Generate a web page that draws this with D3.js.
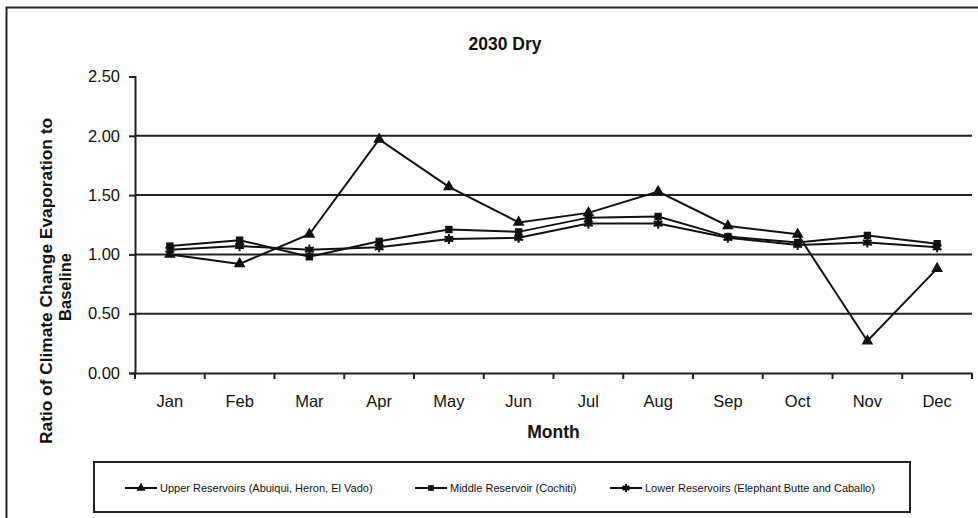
<!DOCTYPE html>
<html>
<head>
<meta charset="utf-8">
<script src="https://cdn.jsdelivr.net/npm/d3@7"></script>
<style>
  body { margin: 0; background: #fff; }
  text { font-family: Arial, "Liberation Sans", sans-serif; fill: #111; }
</style>
</head>
<body>
<div id="chart"></div>
<script>
var months = ["Jan", "Feb", "Mar", "Apr", "May", "Jun", "Jul", "Aug", "Sep", "Oct", "Nov", "Dec"];
var upper = [1.00, 0.92, 1.17, 1.97, 1.57, 1.27, 1.35, 1.53, 1.24, 1.17, 0.27, 0.88];
var middle = [1.07, 1.12, 0.98, 1.11, 1.21, 1.19, 1.31, 1.32, 1.15, 1.10, 1.16, 1.09];
var lower = [1.04, 1.07, 1.04, 1.06, 1.13, 1.14, 1.26, 1.26, 1.14, 1.08, 1.10, 1.06];
var yTicks = [0, 0.5, 1.0, 1.5, 2.0, 2.5];
var seriesNames = ["Upper  Reservoirs (Abuiqui, Heron, El Vado)", "Middle Reservoir (Cochiti)", "Lower Reservoirs (Elephant Butte and Caballo)"];

var width = 978, height = 518;
var plotLeft = 135, plotRight = 972, plotTop = 76.5, plotBottom = 373;

var svg = d3.select("#chart").append("svg")
    .attr("width", width)
    .attr("height", height);

// outer frame
svg.append("path")
    .attr("d", "M6.5,520 V7.5 H980")
    .attr("fill", "none")
    .attr("stroke", "#222")
    .attr("stroke-width", 2);

var x = d3.scaleBand().domain(months).range([plotLeft, plotRight]);
var y = d3.scaleLinear().domain([0, 2.5]).range([plotBottom, plotTop]);

// title
svg.append("text")
    .attr("x", 505).attr("y", 50)
    .attr("text-anchor", "middle")
    .style("font-size", "17.5px").style("font-weight", "bold")
    .text("2030 Dry");

// gridlines
svg.append("g").selectAll("line")
    .data(yTicks.filter(function(d) { return d > 0 && d < 2.5; }))
    .enter().append("line")
    .attr("x1", plotLeft).attr("x2", plotRight)
    .attr("y1", function(d) { return y(d); })
    .attr("y2", function(d) { return y(d); })
    .attr("stroke", "#222").attr("stroke-width", 2);

// y axis
var yAxis = svg.append("g")
    .attr("transform", "translate(" + plotLeft + ",0)")
    .call(d3.axisLeft(y).tickValues(yTicks).tickFormat(d3.format(".2f")).tickSize(6).tickPadding(9));
yAxis.select(".domain").attr("stroke", "#222").attr("stroke-width", 2);
yAxis.selectAll(".tick line").attr("stroke", "#222").attr("stroke-width", 2);
yAxis.selectAll("text").style("font-size", "16.5px").style("font-family", "Arial, 'Liberation Sans', sans-serif").attr("fill", "#111");

// x axis
var xAxis = svg.append("g")
    .attr("transform", "translate(0," + plotBottom + ")")
    .call(d3.axisBottom(x).tickSize(0).tickPadding(22));
xAxis.select(".domain").attr("stroke", "#222").attr("stroke-width", 2);
xAxis.selectAll("text").style("font-size", "16.5px").style("font-family", "Arial, 'Liberation Sans', sans-serif").attr("fill", "#111");
xAxis.selectAll(".sep").data(d3.range(months.length + 1))
    .enter().append("line")
    .attr("class", "sep")
    .attr("x1", function(i) { return plotLeft + i * x.step(); })
    .attr("x2", function(i) { return plotLeft + i * x.step(); })
    .attr("y1", 0).attr("y2", 6)
    .attr("stroke", "#222").attr("stroke-width", 2);

// axis titles
svg.append("text")
    .attr("x", (plotLeft + plotRight) / 2).attr("y", 438)
    .attr("text-anchor", "middle")
    .style("font-size", "17.5px").style("font-weight", "bold")
    .text("Month");

svg.append("text")
    .attr("transform", "translate(52,281) rotate(-90)")
    .attr("text-anchor", "middle")
    .attr("textLength", 326).attr("lengthAdjust", "spacingAndGlyphs")
    .style("font-size", "16.5px").style("font-weight", "bold")
    .text("Ratio of Climate Change Evaporation to");
svg.append("text")
    .attr("transform", "translate(71,287) rotate(-90)")
    .attr("text-anchor", "middle")
    .style("font-size", "16.5px").style("font-weight", "bold")
    .text("Baseline");

// series
var symbols = [d3.symbolTriangle, d3.symbolSquare, d3.symbolX];
var sizes = [60, 55, 60];
var series = [upper, middle, lower];

var line = d3.line()
    .x(function(d, i) { return x(months[i]) + x.bandwidth() / 2; })
    .y(function(d) { return y(d); });

function drawMarker(g, k, px, py, scale) {
    var s = sizes[k] * (scale || 1);
    if (k === 2) {
        g.append("path")
            .attr("transform", "translate(" + px + "," + py + ")")
            .attr("d", d3.symbol().type(d3.symbolSquare).size(s * 0.55)())
            .attr("fill", "#111");
        g.append("path")
            .attr("transform", "translate(" + px + "," + py + ")")
            .attr("d", d3.symbol().type(d3.symbolAsterisk).size(s * 1.2)())
            .attr("fill", "none").attr("stroke", "#111").attr("stroke-width", 2);
    } else {
        g.append("path")
            .attr("transform", "translate(" + px + "," + py + ")")
            .attr("d", d3.symbol().type(symbols[k]).size(s)())
            .attr("fill", "#111");
    }
}

series.forEach(function(vals, k) {
    var g = svg.append("g");
    g.append("path")
        .datum(vals)
        .attr("d", line)
        .attr("fill", "none")
        .attr("stroke", "#111")
        .attr("stroke-width", 2);
    vals.forEach(function(v, i) {
        drawMarker(g, k, x(months[i]) + x.bandwidth() / 2, y(v));
    });
});

// legend
var legend = svg.append("g");
legend.append("rect")
    .attr("x", 94).attr("y", 462)
    .attr("width", 816).attr("height", 50)
    .attr("fill", "#fff").attr("stroke", "#222").attr("stroke-width", 2);

var legendX = [125, 415, 610];
seriesNames.forEach(function(name, k) {
    var g = legend.append("g");
    var lx = legendX[k];
    g.append("line")
        .attr("x1", lx).attr("x2", lx + 32)
        .attr("y1", 488).attr("y2", 488)
        .attr("stroke", "#111").attr("stroke-width", 2);
    drawMarker(g, k, lx + 16, 488, 0.6);
    g.append("text")
        .attr("x", lx + 35).attr("y", 492)
        .style("font-size", "11px")
        .text(name);
});
</script>
</body>
</html>
